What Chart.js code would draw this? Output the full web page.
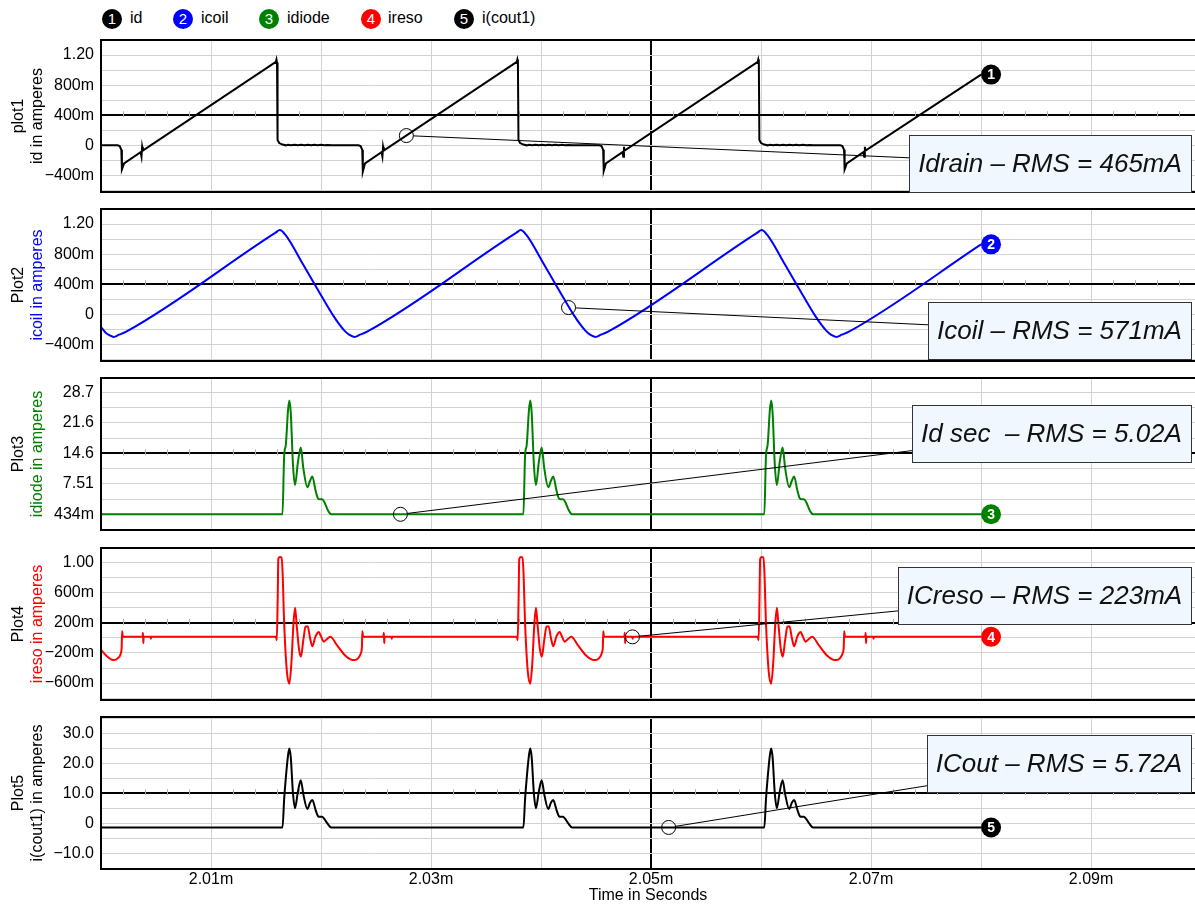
<!DOCTYPE html>
<html>
<head>
<meta charset="utf-8">
<title>Transient plots</title>
<script src="https://cdn.jsdelivr.net/npm/chart.js@4.4.1/dist/chart.umd.min.js"></script>
<style>
  html, body { margin: 0; padding: 0; background: #fff; }
  #page { position: relative; width: 1195px; height: 905px; overflow: hidden; font-family: "Liberation Sans", Arial, sans-serif; }
  #page canvas { position: absolute; left: 0; }
  .dot { position: absolute; width: 20px; height: 20px; border-radius: 50%; color: #fff; font-size: 15px; line-height: 20px; text-align: center; }
  .name { position: absolute; font-size: 16px; line-height: 20px; color: #000; white-space: nowrap; }
</style>
</head>
<body>
<div id="page">
  <canvas id="plot1"></canvas>
  <canvas id="plot2"></canvas>
  <canvas id="plot3"></canvas>
  <canvas id="plot4"></canvas>
  <canvas id="plot5"></canvas>
</div>
<script>
// time in ms
var timeTicks = [2.00, 2.01, 2.02, 2.03, 2.04, 2.05, 2.06, 2.07, 2.08, 2.09];
var timeLabels = ['', '2.01m', '', '2.03m', '', '2.05m', '', '2.07m', '', '2.09m'];

var legendNames = ['id', 'icoil', 'idiode', 'ireso', 'i(cout1)'];
var legendColors = ['#000000', '#0000ff', '#008000', '#ff0000', '#000000'];

var ampTicks = [-0.4, 0, 0.4, 0.8, 1.2];
var ampLabels = ['\u2212400m', '0', '400m', '800m', '1.20'];
var diodeTicks = [0.434, 7.5005, 14.567, 21.634, 28.70];
var diodeLabels = ['434m', '7.51', '14.6', '21.6', '28.7'];
var resoTicks = [-0.6, -0.2, 0.2, 0.6, 1.0];
var resoLabels = ['\u2212600m', '\u2212200m', '200m', '600m', '1.00'];
var coutTicks = [-10, 0, 10, 20, 30];
var coutLabels = ['\u221210.0', '0', '10.0', '20.0', '30.0'];

// id
var idT = [2.0000, 2.0015, 2.0017, 2.00185, 2.0019, 2.0021, 2.0036, 2.00368, 2.00374, 2.0038,
  2.0159, 2.01595, 2.0160, 2.01605, 2.0162, 2.0165, 2.0168, 2.0170, 2.0173, 2.0176, 2.0179, 2.0182,
  2.0185, 2.0188, 2.0191, 2.0194, 2.0197, 2.0200, 2.0203, 2.0206, 2.0210,
  2.0234, 2.0236, 2.02375, 2.0238, 2.0240, 2.0255, 2.02558, 2.02564, 2.0257,
  2.0378, 2.03785, 2.0379, 2.03795, 2.0381, 2.0384, 2.0387, 2.0389, 2.0392, 2.0395, 2.0398, 2.0401,
  2.0404, 2.0407, 2.0410, 2.0413, 2.0416, 2.0419, 2.0422, 2.0425, 2.0429,
  2.0453, 2.0455, 2.04565, 2.0457, 2.0459, 2.0474, 2.04748, 2.04754, 2.0476,
  2.0597, 2.05975, 2.0598, 2.05985, 2.0600, 2.0603, 2.0606, 2.0608, 2.0611, 2.0614, 2.0617, 2.0620,
  2.0623, 2.0626, 2.0629, 2.0632, 2.0635, 2.0638, 2.0641, 2.0644, 2.0648,
  2.0672, 2.0674, 2.06755, 2.0676, 2.0678, 2.0693, 2.06938, 2.06944, 2.0695, 2.0800];
var idV = [0, 0, -0.01, -0.06, -0.32, -0.24, -0.09, -0.15, -0.02, -0.07,
  1.11, 1.14, 1.10, 0.07, 0.03, 0.01, 0, 0.008, 0, 0.008, 0, 0.008,
  0, 0.008, 0, 0.007, 0, 0.007, 0, 0.004, 0,
  0, -0.01, -0.06, -0.35, -0.24, -0.09, -0.15, -0.02, -0.07,
  1.11, 1.14, 1.10, 0.07, 0.03, 0.01, 0, 0.008, 0, 0.008, 0, 0.008,
  0, 0.008, 0, 0.007, 0, 0.007, 0, 0.004, 0,
  0, -0.01, -0.06, -0.34, -0.24, -0.09, -0.15, -0.02, -0.07,
  1.11, 1.14, 1.10, 0.07, 0.03, 0.01, 0, 0.008, 0, 0.008, 0, 0.008,
  0, 0.008, 0, 0.007, 0, 0.007, 0, 0.004, 0,
  0, -0.01, -0.06, -0.32, -0.24, -0.09, -0.15, -0.02, -0.07, 0.94];

// icoil
var icoilT = [2.0000, 2.0004, 2.0008, 2.00115, 2.00165, 2.00225,
  2.01587, 2.01625, 2.01677, 2.01835, 2.02008, 2.02113, 2.02165, 2.02215, 2.02255, 2.02305, 2.02355, 2.02415,
  2.03777, 2.03815, 2.03867, 2.04025, 2.04198, 2.04303, 2.04355, 2.04405, 2.04445, 2.04495, 2.04545, 2.04605,
  2.05967, 2.06005, 2.06057, 2.06215, 2.06388, 2.06493, 2.06545, 2.06595, 2.06635, 2.06685, 2.06735, 2.06795,
  2.0800];
var icoilV = [-0.17, -0.24, -0.28, -0.30, -0.27, -0.233,
  1.086, 1.12, 1.055, 0.668, 0.235, -0.02, -0.13, -0.22, -0.27, -0.30, -0.27, -0.233,
  1.086, 1.12, 1.055, 0.668, 0.235, -0.02, -0.13, -0.22, -0.27, -0.30, -0.27, -0.233,
  1.086, 1.12, 1.055, 0.668, 0.235, -0.02, -0.13, -0.22, -0.27, -0.30, -0.27, -0.233,
  0.93];

// idiode and i(cout1) share the pulse times
var pulseT = [2.0000,
  2.01650, 2.01665, 2.01680, 2.01700, 2.01712, 2.01725, 2.01745, 2.01764, 2.01790, 2.01816, 2.01840,
  2.01876, 2.01900, 2.01921, 2.01950, 2.01973, 2.01990, 2.02010, 2.02030, 2.02060, 2.02090, 2.02095,
  2.03840, 2.03855, 2.03870, 2.03890, 2.03902, 2.03915, 2.03935, 2.03954, 2.03980, 2.04006, 2.04030,
  2.04066, 2.04090, 2.04111, 2.04140, 2.04163, 2.04180, 2.04200, 2.04220, 2.04250, 2.04280, 2.04285,
  2.06030, 2.06045, 2.06060, 2.06080, 2.06092, 2.06105, 2.06125, 2.06144, 2.06170, 2.06196, 2.06220,
  2.06256, 2.06280, 2.06301, 2.06330, 2.06353, 2.06370, 2.06390, 2.06410, 2.06440, 2.06470, 2.06475,
  2.0800];
var diodeV = [0.43,
  0.43, 14.0, 16.5, 24.5, 26.8, 24.0, 12.0, 7.2, 12.5, 15.9, 11.0,
  6.7, 8.2, 9.2, 6.0, 4.1, 3.9, 3.9, 3.3, 1.5, 0.45, 0.43,
  0.43, 14.0, 16.5, 24.5, 26.8, 24.0, 12.0, 7.2, 12.5, 15.9, 11.0,
  6.7, 8.2, 9.2, 6.0, 4.1, 3.9, 3.9, 3.3, 1.5, 0.45, 0.43,
  0.43, 14.0, 16.5, 24.5, 26.8, 24.0, 12.0, 7.2, 12.5, 15.9, 11.0,
  6.7, 8.2, 9.2, 6.0, 4.1, 3.9, 3.9, 3.3, 1.5, 0.45, 0.43,
  0.43];
var coutV = [-1.44,
  -1.44, 8.0, 15.0, 22.5, 24.9, 22.0, 10.0, 5.0, 10.5, 14.3, 9.5,
  4.7, 6.8, 7.7, 4.5, 2.3, 2.1, 2.1, 1.4, -0.2, -1.42, -1.44,
  -1.44, 8.0, 15.0, 22.5, 24.9, 22.0, 10.0, 5.0, 10.5, 14.3, 9.5,
  4.7, 6.8, 7.7, 4.5, 2.3, 2.1, 2.1, 1.4, -0.2, -1.42, -1.44,
  -1.44, 8.0, 15.0, 22.5, 24.9, 22.0, 10.0, 5.0, 10.5, 14.3, 9.5,
  4.7, 6.8, 7.7, 4.5, 2.3, 2.1, 2.1, 1.4, -0.2, -1.42, -1.44,
  -1.44];

// ireso
var resoT = [2.0000, 2.00059, 2.00112, 2.00157, 2.00181, 2.00188, 2.00192, 2.00198, 2.00206,
  2.00378, 2.00381, 2.00385, 2.00388, 2.00450, 2.00453, 2.00456,
  2.01590, 2.01598, 2.01606, 2.01612, 2.01625, 2.01640, 2.01650, 2.01665, 2.01690, 2.01712, 2.01730,
  2.01750, 2.01764, 2.01780, 2.01800, 2.01817, 2.01840, 2.01860, 2.01879, 2.01900, 2.01921, 2.01950,
  2.01980, 2.02000, 2.02025, 2.02050, 2.02085, 2.02147, 2.02217, 2.02269, 2.02304, 2.02338, 2.02363,
  2.02372, 2.02376, 2.02382, 2.02392, 2.02568, 2.02571, 2.02575, 2.02578, 2.02640, 2.02643, 2.02646,
  2.03780, 2.03788, 2.03796, 2.03802, 2.03815, 2.03830, 2.03840, 2.03855, 2.03880, 2.03902, 2.03920,
  2.03940, 2.03954, 2.03970, 2.03990, 2.04007, 2.04030, 2.04050, 2.04069, 2.04090, 2.04111, 2.04140,
  2.04170, 2.04190, 2.04215, 2.04240, 2.04275, 2.04337, 2.04407, 2.04459, 2.04494, 2.04528, 2.04553,
  2.04562, 2.04566, 2.04572, 2.04582, 2.04758, 2.04761, 2.04765, 2.04768, 2.04830, 2.04833, 2.04836,
  2.05970, 2.05978, 2.05986, 2.05992, 2.06005, 2.06020, 2.06030, 2.06045, 2.06070, 2.06092, 2.06110,
  2.06130, 2.06144, 2.06160, 2.06180, 2.06197, 2.06220, 2.06240, 2.06259, 2.06280, 2.06301, 2.06330,
  2.06360, 2.06380, 2.06405, 2.06430, 2.06465, 2.06527, 2.06597, 2.06649, 2.06684, 2.06718, 2.06743,
  2.06752, 2.06756, 2.06762, 2.06772, 2.06948, 2.06951, 2.06955, 2.06958, 2.07020, 2.07023, 2.07026,
  2.0800];
var resoV = [-0.16, -0.25, -0.295, -0.265, -0.20, -0.12, 0.09, 0.02, 0.014,
  0.014, 0.07, -0.07, 0.014, 0.014, -0.01, 0.014,
  0.014, -0.03, 0.5, 1.05, 1.075, 1.07, 0.9, 0.2, -0.45, -0.61, -0.35,
  0.2, 0.40, 0.15, -0.15, -0.25, -0.02, 0.15, 0.156, 0.0, -0.11, 0.02,
  0.08, 0.02, -0.05, -0.02, 0.015, -0.10, -0.23, -0.285, -0.295, -0.27, -0.20,
  -0.12, 0.09, 0.02, 0.014, 0.014, 0.07, -0.07, 0.014, 0.014, -0.01, 0.014,
  0.014, -0.03, 0.5, 1.05, 1.075, 1.07, 0.9, 0.2, -0.45, -0.61, -0.35,
  0.2, 0.40, 0.15, -0.15, -0.25, -0.02, 0.15, 0.156, 0.0, -0.11, 0.02,
  0.08, 0.02, -0.05, -0.02, 0.015, -0.10, -0.23, -0.285, -0.295, -0.27, -0.20,
  -0.12, 0.09, 0.02, 0.014, 0.014, 0.07, -0.07, 0.014, 0.014, -0.01, 0.014,
  0.014, -0.03, 0.5, 1.05, 1.075, 1.07, 0.9, 0.2, -0.45, -0.61, -0.35,
  0.2, 0.40, 0.15, -0.15, -0.25, -0.02, 0.15, 0.156, 0.0, -0.11, 0.02,
  0.08, 0.02, -0.05, -0.02, 0.015, -0.10, -0.23, -0.285, -0.295, -0.27, -0.20,
  -0.12, 0.09, 0.02, 0.014, 0.014, 0.07, -0.07, 0.014, 0.014, -0.01, 0.014,
  0.014];

var FONT = '"Liberation Sans", Arial, sans-serif';
var X_MIN = 2.0, X_MAX = 2.09945;

var plots = [
  { id: 'plot1', top: 40, name: 'plot1', unit: 'id in amperes', unitColor: '#000000', color: '#000000',
    t: idT, v: idV, min: -0.62, max: 1.40, ticks: ampTicks, labels: ampLabels, smooth: false,
    probe: [2.02776, 0.13], note: 'Idrain \u2013 RMS = 465mA', box: 135, hook: 0.40, mark: '1' },
  { id: 'plot2', top: 209, name: 'Plot2', unit: 'icoil in amperes', unitColor: '#0000ff', color: '#0000ff',
    t: icoilT, v: icoilV, min: -0.62, max: 1.40, ticks: ampTicks, labels: ampLabels, smooth: true,
    probe: [2.0425, 0.09], note: 'Icoil \u2013 RMS = 571mA', box: 302, hook: 0.40, mark: '2' },
  { id: 'plot3', top: 378, name: 'Plot3', unit: 'idiode in amperes', unitColor: '#008000', color: '#008000',
    t: pulseT, v: diodeV, min: -3.21, max: 32.03, ticks: diodeTicks, labels: diodeLabels, smooth: true,
    probe: [2.02722, 0.43], note: 'Id sec  \u2013 RMS = 5.02A', box: 405, hook: 0.80, mark: '3' },
  { id: 'plot4', top: 548, name: 'Plot4', unit: 'ireso in amperes', unitColor: '#ff0000', color: '#ff0000',
    t: resoT, v: resoV, min: -0.825, max: 1.195, ticks: resoTicks, labels: resoLabels, smooth: true,
    probe: [2.04831, 0.014], note: 'ICreso \u2013 RMS = 223mA', box: 567, hook: 0.77, mark: '4' },
  { id: 'plot5', top: 717, name: 'Plot5', unit: 'i(cout1) in amperes', unitColor: '#000000', color: '#000000',
    t: pulseT, v: coutV, min: -15.3, max: 35.4, ticks: coutTicks, labels: coutLabels, smooth: true,
    probe: [2.0516, -1.44], note: 'ICout \u2013 RMS = 5.72A', box: 735, hook: 0.89, mark: '5' }
];
var PLOT_H = 152;

Chart.defaults.font.family = FONT;
Chart.defaults.font.size = 16;
Chart.defaults.color = '#000';

// legend row
var page = document.getElementById('page');
var dotX = [112, 183, 269, 371, 464];
var nameX = [130, 201, 287, 388, 482];
legendNames.forEach(function (n, i) {
  var d = document.createElement('div');
  d.className = 'dot';
  d.style.left = (dotX[i] - 10) + 'px';
  d.style.top = '9px';
  d.style.background = legendColors[i];
  d.textContent = String(i + 1);
  page.appendChild(d);
  var s = document.createElement('div');
  s.className = 'name';
  s.style.left = nameX[i] + 'px';
  s.style.top = '8px';
  s.textContent = n;
  page.appendChild(s);
});

function near(a, b) { return Math.abs(a - b) < 1e-6; }

function decoPlugin(p, cTop) {
  return {
    id: 'deco',
    beforeDatasetsDraw: function (chart) {
      var c = chart.ctx, xs = chart.scales.x, ys = chart.scales.y;
      var yc = ys.getPixelForValue(p.ticks[2]);
      c.save();
      c.strokeStyle = '#b0b0b0';
      c.lineWidth = 1;
      for (var k = 1; X_MIN + k * 0.002 < X_MAX; k++) {
        if (k % 5 === 0) continue;
        var x = Math.round(xs.getPixelForValue(X_MIN + k * 0.002)) + 0.5;
        c.beginPath();
        c.moveTo(x, yc - 4);
        c.lineTo(x, yc + 2);
        c.stroke();
      }
      c.restore();
    },
    afterDraw: function (chart) {
      var c = chart.ctx, a = chart.chartArea, xs = chart.scales.x, ys = chart.scales.y;
      c.save();
      // frame
      c.strokeStyle = '#000';
      c.lineWidth = 2;
      c.strokeRect(a.left, a.top, a.right - a.left + 10, a.bottom - a.top);

      // axis titles, two lines
      var mid = (a.top + a.bottom) / 2;
      c.font = '16px ' + FONT;
      c.textAlign = 'center';
      c.textBaseline = 'middle';
      [[p.name, '#000000', 19], [p.unit, p.unitColor, 38]].forEach(function (l) {
        c.save();
        c.translate(l[2], mid);
        c.rotate(-Math.PI / 2);
        c.fillStyle = l[1];
        c.fillText(l[0], 0, 0);
        c.restore();
      });

      // probe circle, leader and note box
      var cx = xs.getPixelForValue(p.probe[0]), cy = ys.getPixelForValue(p.probe[1]);
      c.font = 'italic 26px ' + FONT;
      var w = Math.round(c.measureText(p.note).width + 18), h = 57;
      var bx = 1191 - w, by = p.box - cTop;
      var ex = bx, ey = by + h * p.hook;
      var ang = Math.atan2(ey - cy, ex - cx);
      c.lineWidth = 1;
      c.strokeStyle = '#000';
      c.beginPath();
      c.moveTo(cx + 7 * Math.cos(ang), cy + 7 * Math.sin(ang));
      c.lineTo(ex, ey);
      c.stroke();
      c.beginPath();
      c.arc(cx, cy, 7, 0, 2 * Math.PI);
      c.stroke();
      c.fillStyle = '#f0f7fe';
      c.fillRect(bx, by, w, h);
      c.strokeStyle = '#333';
      c.strokeRect(bx + 0.5, by + 0.5, w, h);
      c.fillStyle = '#111';
      c.fillText(p.note, bx + w / 2, by + h / 2 + 1);

      // end marker
      var n = p.t.length - 1;
      var mx = xs.getPixelForValue(p.t[n]) + 10, my = ys.getPixelForValue(p.v[n]);
      c.beginPath();
      c.arc(mx, my, 10, 0, 2 * Math.PI);
      c.fillStyle = p.color;
      c.fill();
      c.fillStyle = '#fff';
      c.font = 'bold 14px ' + FONT;
      c.fillText(p.mark, mx, my + 1);
      c.restore();
    }
  };
}

function buildPlot(p, idx) {
  var last = idx === plots.length - 1;
  var cv = document.getElementById(p.id);
  var cTop = p.top - 8;
  var cH = last ? 905 - cTop : PLOT_H + 16;
  cv.width = 1195;
  cv.height = cH;
  cv.style.top = cTop + 'px';
  cv.style.width = '1195px';
  cv.style.height = cH + 'px';

  var step = p.ticks[1] - p.ticks[0];
  var margin = (p.max - p.min) * 0.005;
  var yGrid = [p.ticks[0] - step / 2];
  p.ticks.forEach(function (v) { yGrid.push(v, v + step / 2); });
  yGrid = yGrid.filter(function (v) { return v > p.min + margin && v < p.max - margin; });
  var center = p.ticks[2];

  var pts = p.t.map(function (t, i) { return { x: t, y: p.v[i] }; });

  return new Chart(cv, {
    type: 'line',
    data: {
      datasets: [{
        data: pts,
        borderColor: p.color,
        borderWidth: 2,
        pointRadius: 0,
        fill: false,
        tension: 0,
        cubicInterpolationMode: p.smooth ? 'monotone' : 'default'
      }]
    },
    options: {
      responsive: false,
      animation: false,
      devicePixelRatio: 1,
      events: [],
      layout: { autoPadding: false, padding: { left: 0, right: 0, top: 8, bottom: last ? 0 : 8 } },
      plugins: { legend: { display: false }, tooltip: { enabled: false } },
      scales: {
        x: {
          type: 'linear',
          min: X_MIN,
          max: X_MAX,
          afterBuildTicks: function (s) { s.ticks = timeTicks.map(function (v) { return { value: v }; }); },
          afterFit: function (s) { s.height = last ? 36 : 0; s.paddingLeft = 0; s.paddingRight = 0; },
          ticks: {
            display: last,
            autoSkip: false,
            maxRotation: 0,
            padding: 1,
            color: '#000',
            font: { size: 16 },
            callback: function (value) {
              for (var i = 0; i < timeTicks.length; i++) if (near(timeTicks[i], value)) return timeLabels[i];
              return '';
            }
          },
          grid: {
            drawTicks: false,
            color: function (ctx) { return ctx.tick && near(ctx.tick.value, 2.05) ? '#000000' : '#d2d2d2'; },
            lineWidth: function (ctx) { return ctx.tick && near(ctx.tick.value, 2.05) ? 2 : 1; }
          },
          border: { display: false },
          title: { display: last, text: 'Time in Seconds', color: '#000', font: { size: 16 }, padding: { top: 0, bottom: 0 } }
        },
        y: {
          type: 'linear',
          min: p.min,
          max: p.max,
          afterBuildTicks: function (s) { s.ticks = yGrid.map(function (v) { return { value: v }; }); },
          afterFit: function (s) { s.width = 101; s.paddingTop = 0; s.paddingBottom = 0; },
          ticks: {
            autoSkip: false,
            padding: 7,
            color: '#000',
            font: { size: 16 },
            callback: function (value) {
              for (var i = 0; i < p.ticks.length; i++) if (near(p.ticks[i], value)) return p.labels[i];
              return '';
            }
          },
          grid: {
            drawTicks: false,
            color: function (ctx) { return ctx.tick && near(ctx.tick.value, center) ? '#000000' : '#d2d2d2'; },
            lineWidth: function (ctx) { return ctx.tick && near(ctx.tick.value, center) ? 2 : 1; }
          },
          border: { display: false }
        }
      }
    },
    plugins: [decoPlugin(p, cTop)]
  });
}

plots.forEach(buildPlot);
</script>
</body>
</html>
